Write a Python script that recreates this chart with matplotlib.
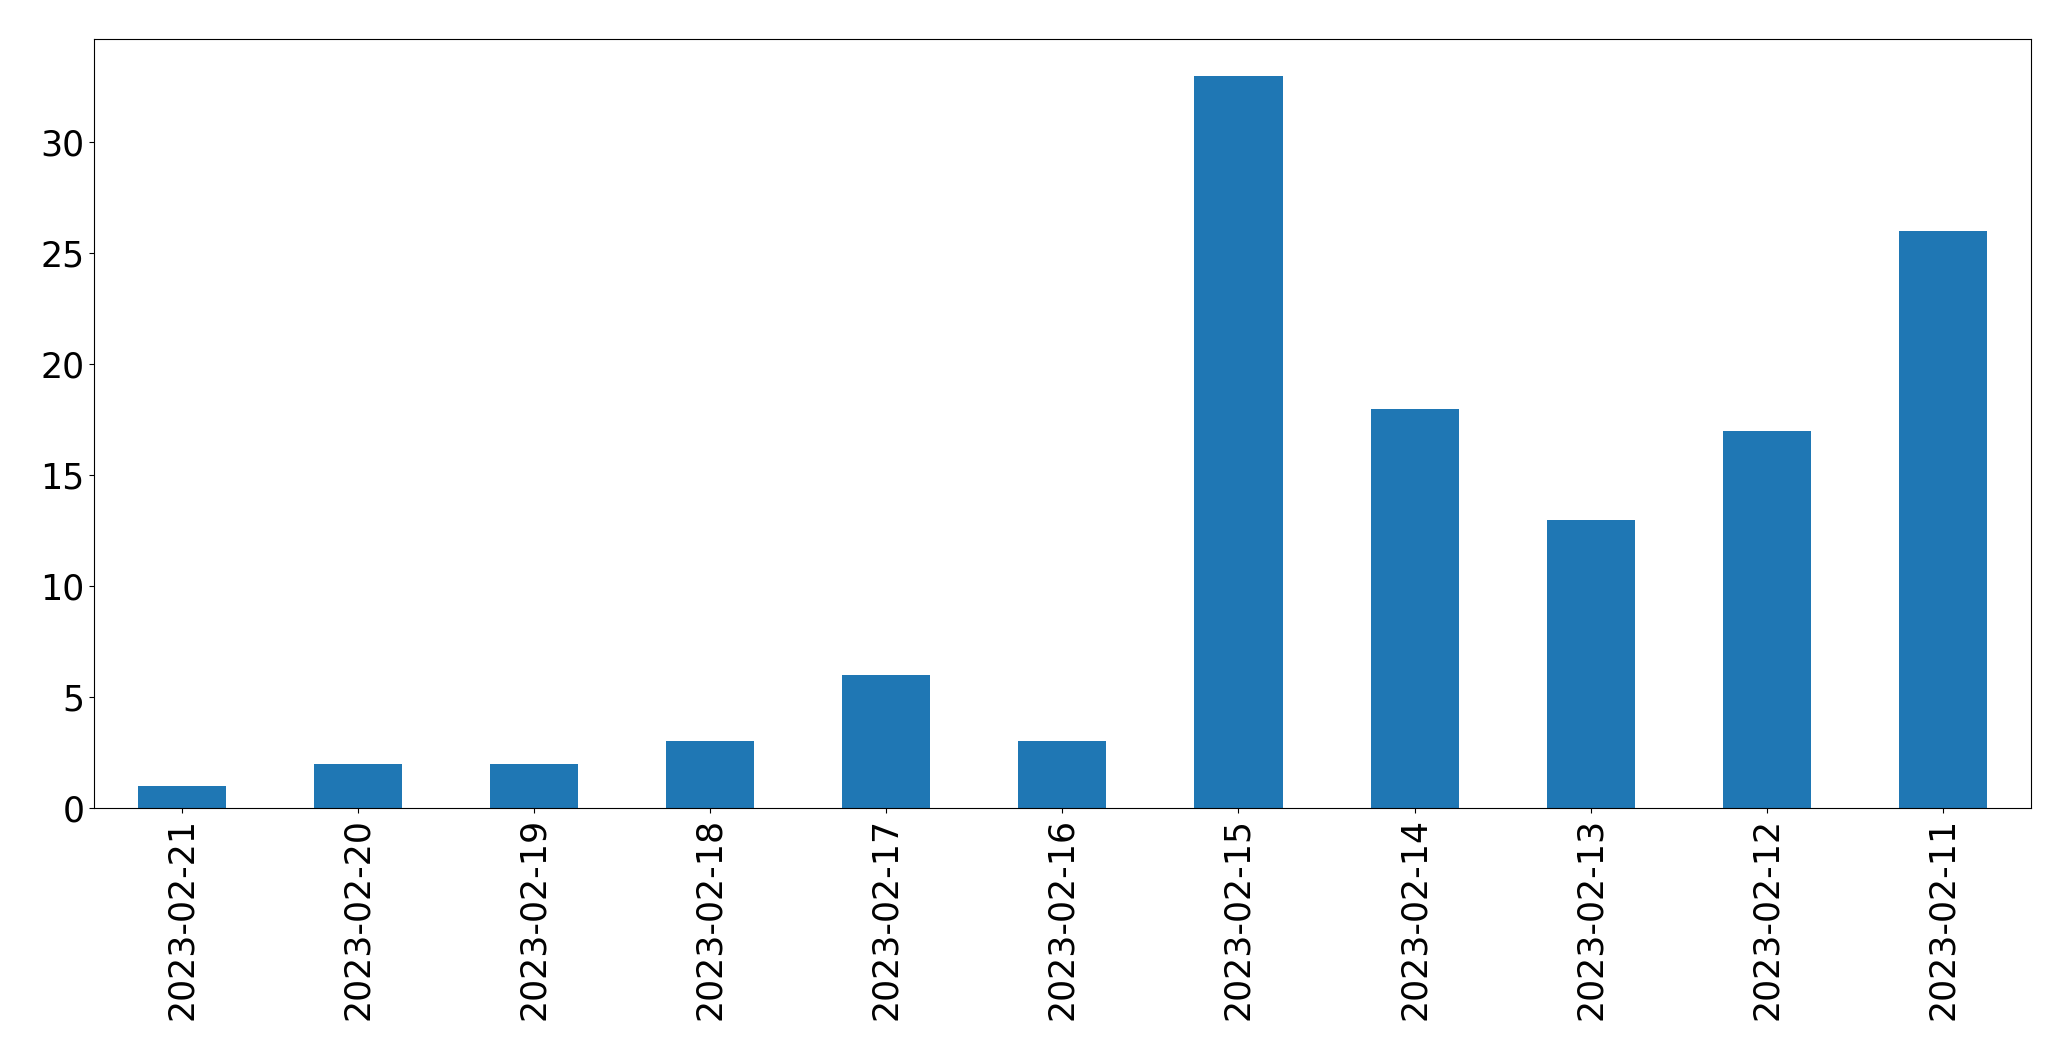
import matplotlib
matplotlib.use("Agg")
import matplotlib.pyplot as plt
import pandas as pd

dates = ["2023-02-21", "2023-02-20", "2023-02-19", "2023-02-18", "2023-02-17",
         "2023-02-16", "2023-02-15", "2023-02-14", "2023-02-13", "2023-02-12",
         "2023-02-11"]
counts = [1, 2, 2, 3, 6, 3, 33, 18, 13, 17, 26]

series = pd.Series(counts, index=dates)

fig, ax = plt.subplots(figsize=(20.71, 10.61), dpi=100)
series.plot(kind="bar", ax=ax, color="#1f77b4")
ax.tick_params(axis="both", labelsize=25)
fig.subplots_adjust(left=0.0454, right=0.9806, top=0.963, bottom=0.2385)
fig.savefig("out.png", dpi=100)
